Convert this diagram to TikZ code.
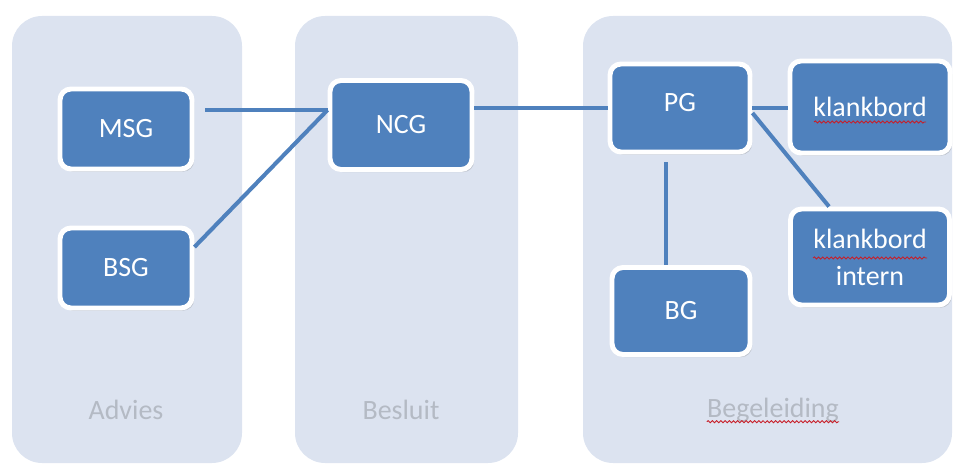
\documentclass[tikz,border=0pt]{standalone}
\usepackage{fontspec}
\setmainfont{Carlito}
\usepackage{xcolor}
\usetikzlibrary{shadows,calc,decorations.pathmorphing}

\definecolor{kolom}{RGB}{220,227,240}
\definecolor{blok}{RGB}{79,129,189}
\definecolor{grijs}{RGB}{180,186,196}
\definecolor{spelling}{RGB}{200,30,40}

\tikzset{
    groep/.style = {fill=kolom, rounded corners=0.6cm},
    blokje/.style = {fill=blok, draw=white, line width=2.8pt, rounded corners=0.22cm,
        text=white, align=center, inner sep=0pt,
        font=\fontsize{15.9}{21}\selectfont,
        drop shadow={shadow xshift=1.2pt, shadow yshift=-1.5pt, opacity=0.25, fill=black!60}},
    titel/.style = {text=grijs, inner sep=0pt, font=\fontsize{15.9}{21}\selectfont},
    lijn/.style = {draw=blok, line width=2.3pt},
    golf/.style = {draw=spelling, line width=0.5pt, decorate,
        decoration={snake, amplitude=0.6pt, segment length=2.4pt}}
}

\begin{document}
\begin{tikzpicture}[scale = 1.0]

    \useasboundingbox (0,0) rectangle (19.06,9.26);

    \fill [groep] (0.24,0.0) rectangle (4.84,8.94);
    \fill [groep] (5.90,0.0) rectangle (10.36,8.94);
    \fill [groep] (11.66,0.0) rectangle (19.04,8.94);

    \node[titel] (advies) at (2.52,1.06) {Advies};
    \node[titel] (besluit) at (8.02,1.06) {Besluit};
    \node[titel] (begeleiding) at (15.46,1.06) {Begeleiding};

    \node[blokje, minimum width=2.64cm, minimum height=1.60cm] (msg) at (2.52,6.68) {MSG};
    \node[blokje, minimum width=2.64cm, minimum height=1.60cm] (bsg) at (2.52,3.90) {BSG};
    \node[blokje, minimum width=2.84cm, minimum height=1.78cm] (ncg) at (8.02,6.76) {NCG};
    \node[blokje, minimum width=2.80cm, minimum height=1.76cm] (pg) at (13.60,7.10) {\raisebox{0.22cm}{PG}};
    \node[blokje, minimum width=3.20cm, minimum height=1.84cm] (klank) at (17.40,7.12) {klankbord};
    \node[blokje, minimum width=3.18cm, minimum height=1.92cm] (intern) at (17.40,4.12) {klankbord\\intern};
    \node[blokje, minimum width=2.76cm, minimum height=1.74cm] (bg) at (13.62,3.04) {BG};

    % spellingcontrole
    \draw [golf] ([yshift=-2.5pt]begeleiding.base west) -- ([yshift=-2.5pt]begeleiding.base east);
    \draw [golf] ([xshift=-1.12cm,yshift=-0.3cm]klank.center) -- ++(2.24,0);
    \draw [golf] ([xshift=-1.14cm,yshift=-0.02cm]intern.center) -- ++(2.28,0);

    % verbindingen
    \coordinate (ncgin) at ([yshift=0.3cm]ncg.west);
    \draw [lijn] ([xshift=0.22cm]msg.east |- ncgin) -- (ncgin);
    \draw [lijn] ([yshift=0.42cm]bsg.east) -- (ncgin);
    \draw [lijn] (pg.west -| ncg.east) -- (pg.west);
    \draw [lijn] (pg.east) -- (pg.east -| klank.west);
    \draw [lijn] ([yshift=-0.1cm]pg.east) -- ([xshift=-0.82cm]intern.north);
    \draw [lijn] ([xshift=-0.28cm,yshift=-0.16cm]pg.south) -- ([xshift=-0.28cm]pg.south |- bg.north);

\end{tikzpicture}
\end{document}
